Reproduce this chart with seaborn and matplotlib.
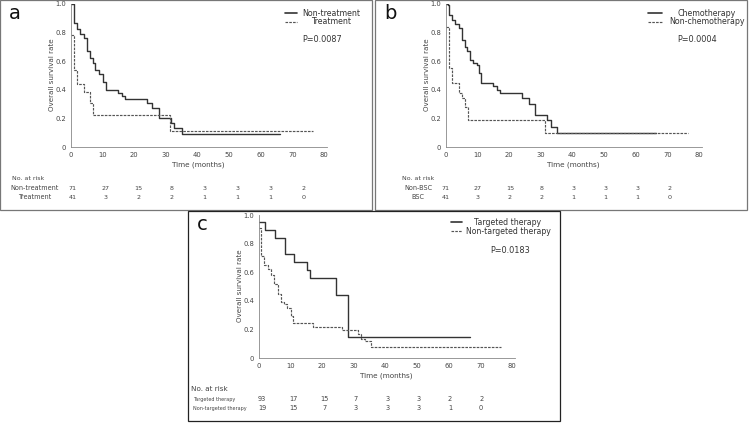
import numpy as np
import pandas as pd
import matplotlib
matplotlib.use("agg")
import matplotlib.pyplot as plt
import seaborn as sns
from matplotlib.lines import Line2D
from matplotlib.patches import Rectangle

W, H = 750, 423

# ---- panel a: non-treatment vs treatment
a_labels = ["Non-treatment", "Treatment"]
a_solid_t = [0, 0.9, 2, 3, 4, 5, 6, 7, 7.5, 9, 10, 11, 15, 16, 17, 24, 25.5, 28, 31.5, 32.5, 35, 66]
a_solid_s = [1.0, 0.866, 0.824, 0.79, 0.76, 0.67, 0.62, 0.585, 0.535, 0.51, 0.455, 0.40, 0.378,
             0.355, 0.336, 0.305, 0.27, 0.205, 0.17, 0.135, 0.09, 0.09]
a_dash_t = [0, 1, 2, 4, 6, 7, 31.4, 76.5]
a_dash_s = [0.785, 0.535, 0.44, 0.385, 0.31, 0.225, 0.113, 0.113]
a_pval = "P=0.0087"
a_risk_rows = ["Non-treatment", "Treatment"]
a_risk_top = [71, 27, 15, 8, 3, 3, 3, 2]
a_risk_bottom = [41, 3, 2, 2, 1, 1, 1, 0]

# ---- panel b: chemotherapy vs non-chemotherapy
b_labels = ["Chemotherapy", "Non-chemotherapy"]
b_solid_t = [0, 0.5, 1, 2, 3, 4, 5, 6, 6.7, 7.5, 8.5, 9.7, 10.3, 11.1, 15, 16, 17, 24, 26.3,
             28.2, 32.1, 33.2, 35.2, 66.5]
b_solid_s = [1.0, 0.99, 0.925, 0.89, 0.86, 0.83, 0.75, 0.70, 0.67, 0.61, 0.59, 0.575, 0.52, 0.45,
             0.43, 0.40, 0.377, 0.34, 0.30, 0.225, 0.19, 0.14, 0.096, 0.096]
b_dash_t = [0, 1, 2, 4, 5, 6, 7, 31.2, 76.5]
b_dash_s = [0.84, 0.55, 0.45, 0.377, 0.34, 0.28, 0.19, 0.095, 0.095]
b_pval = "P=0.0004"
b_risk_rows = ["Non-BSC", "BSC"]
b_risk_top = [71, 27, 15, 8, 3, 3, 3, 2]
b_risk_bottom = [41, 3, 2, 2, 1, 1, 1, 0]

# ---- panel c: targeted vs non-targeted therapy
c_labels = ["Targeted therapy", "Non-targeted therapy"]
c_solid_t = [0, 2.0, 5.0, 8.1, 11.0, 15.3, 16.1, 24.3, 28.2, 66.7]
c_solid_s = [0.954, 0.896, 0.838, 0.727, 0.67, 0.615, 0.556, 0.444, 0.144, 0.144]
c_dash_t = [0, 0.7, 1.6, 2.9, 3.9, 4.9, 5.9, 6.9, 8.0, 9.0, 10.0, 10.9, 17, 26.3, 31.2, 32.3,
            33.4, 35.3, 76.6]
c_dash_s = [0.907, 0.715, 0.65, 0.62, 0.58, 0.517, 0.45, 0.39, 0.375, 0.35, 0.292, 0.246, 0.22,
            0.194, 0.167, 0.13, 0.116, 0.074, 0.074]
c_pval = "P=0.0183"
c_risk_rows = ["Targeted therapy", "Non-targeted therapy"]
c_risk_top = [93, 17, 15, 7, 3, 3, 2, 2]
c_risk_bottom = [19, 15, 7, 3, 3, 3, 1, 0]

risk_times = [0, 10, 20, 30, 40, 50, 60, 70]
x_ticks = [0, 10, 20, 30, 40, 50, 60, 70, 80]
y_ticks = [0, 0.2, 0.4, 0.6, 0.8, 1.0]
y_ticklabels = ["0", "0.2", "0.4", "0.6", "0.8", "1.0"]

SOLID = "#333333"
DASH = "#555555"
TXT = "#444444"


def fx(px):
    return px / W


def fy(py):
    return 1 - py / H


def panel(fig, bx, by, letter, labels, st, ss, dt, ds, pval, rows, top, bottom,
          risk_scale, risk_off, leg, risk_lab_style, border):
    fig.add_artist(Rectangle((fx(bx), fy(by + 210)), 372 / W, 210 / H, transform=fig.transFigure,
                             fill=False, ec=border, lw=0.9))
    ax = fig.add_axes([fx(bx + 71), fy(by + 147), 256 / W, 143 / H])
    sns.lineplot(x=st, y=ss, ax=ax, estimator=None, sort=False, drawstyle="steps-post",
                 color=SOLID, lw=1.0)
    sns.lineplot(x=dt, y=ds, ax=ax, estimator=None, sort=False, drawstyle="steps-post",
                 color=DASH, lw=0.85, linestyle=(0, (2.2, 1.0)))
    ax.set_xlim(0, 81)
    ax.set_ylim(0, 1.0)
    ax.set_xticks(x_ticks)
    ax.set_yticks(y_ticks)
    ax.set_yticklabels(y_ticklabels)
    ax.tick_params(labelsize=4.9, colors=TXT, length=2, width=0.5, pad=1.5)
    for sp in ["top", "right"]:
        ax.spines[sp].set_visible(False)
    for sp in ["left", "bottom"]:
        ax.spines[sp].set_color("#888888")
        ax.spines[sp].set_linewidth(0.6)
    ax.set_xlabel("")
    ax.set_ylabel("")
    ax.patch.set_alpha(0)

    fig.text(fx(bx + 52), fy(by + 75), "Overall survival rate", rotation=90, ha="center",
             va="center", fontsize=5.1, color=TXT)
    fig.text(fx(bx + 198), fy(by + 165), "Time (months)", ha="center", va="center",
             fontsize=5.2, color=TXT)

    # panel letter
    fig.text(fx(bx + 9), fy(by + 19), letter, ha="left", va="baseline", fontsize=14, color="#111111")

    # legend
    l0, l1, tcx, y1, y2, fs = leg
    fig.add_artist(Line2D([fx(bx + l0), fx(bx + l1)], [fy(by + y1), fy(by + y1)],
                          transform=fig.transFigure, color=SOLID, lw=1.2))
    fig.add_artist(Line2D([fx(bx + l0), fx(bx + l1)], [fy(by + y2), fy(by + y2)],
                          transform=fig.transFigure, color=DASH, lw=0.85,
                          linestyle=(0, (2.2, 1.0))))
    fig.text(fx(bx + tcx), fy(by + y1), labels[0], ha="center", va="center", fontsize=fs, color="#333333")
    fig.text(fx(bx + tcx), fy(by + y2), labels[1], ha="center", va="center", fontsize=fs, color="#333333")
    fig.text(fx(bx + 322), fy(by + 39), pval, ha="center", va="center", fontsize=5.9, color="#333333")

    # numbers at risk
    nfs, lfs, lab_x, lab_ha, head_fs, head_x = risk_lab_style
    fig.text(fx(bx + head_x), fy(by + 178), "No. at risk", ha="left", va="center", fontsize=head_fs, color=TXT)
    for row_y, name, vals in [(188, rows[0], top), (197, rows[1], bottom)]:
        fig.text(fx(bx + lab_x), fy(by + row_y), name, ha=lab_ha, va="center", fontsize=lfs, color=TXT)
        for t, v in zip(risk_times, vals):
            xp = ax.transData.transform((t * risk_scale + risk_off, 0))[0]
            fig.text(xp / fig.dpi / fig.get_figwidth(), fy(by + row_y), str(v), ha="center",
                     va="center", fontsize=nfs, color=TXT)
    return ax


sns.set_style("white")
plt.rcParams["font.family"] = ["DejaVu Sans"]
fig = plt.figure(figsize=(7.5, 4.23), dpi=100)
fig.patch.set_facecolor("white")

panel(fig, 0, 0, "a", a_labels, a_solid_t, a_solid_s, a_dash_t, a_dash_s, a_pval,
      a_risk_rows, a_risk_top, a_risk_bottom, 1.045, 0.5,
      (285, 297, 331, 13, 22, 5.7), (4.6, 4.7, 35, "center", 4.5, 12), "#777777")
panel(fig, 375, 0, "b", b_labels, b_solid_t, b_solid_s, b_dash_t, b_dash_s, b_pval,
      b_risk_rows, b_risk_top, b_risk_bottom, 1.01, 0.0,
      (273, 287, 332, 13, 22, 5.7), (4.6, 4.7, 43, "center", 4.5, 27), "#777777")
panel(fig, 188, 211, "c", c_labels, c_solid_t, c_solid_s, c_dash_t, c_dash_s, c_pval,
      c_risk_rows, c_risk_top, c_risk_bottom, 0.99, 1.0,
      (263, 274, 320, 11, 20, 5.6), (4.8, 3.5, 5, "left", 5.2, 3), "#222222")

fig.savefig("out.png", dpi=100)
